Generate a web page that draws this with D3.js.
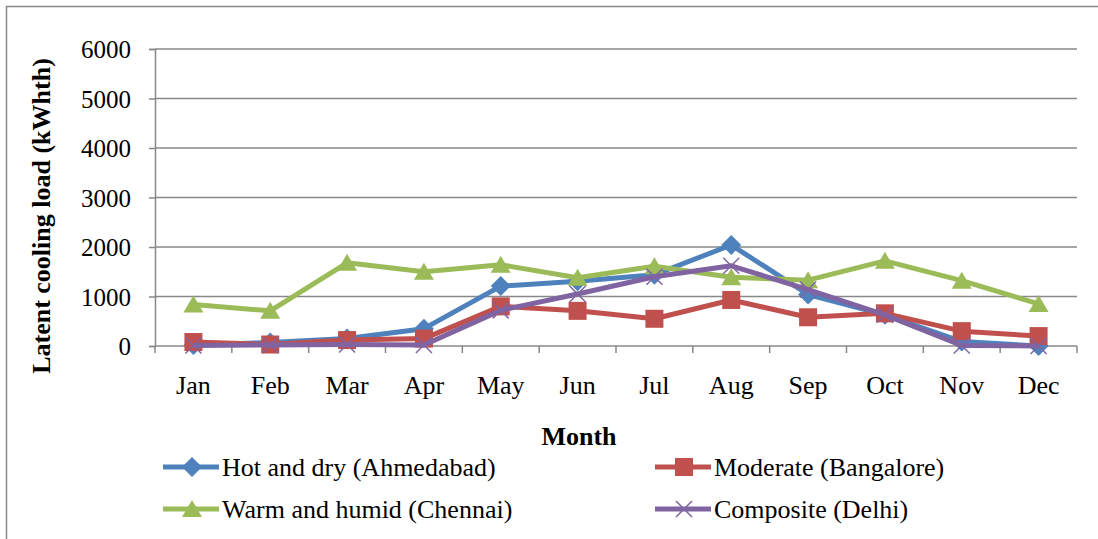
<!DOCTYPE html>
<html>
<head>
<meta charset="utf-8">
<script src="https://cdn.jsdelivr.net/npm/d3@7"></script>
<style>
  html, body { margin: 0; padding: 0; background: #fff; }
  svg { display: block; }
  text { font-family: "Liberation Serif", "Times New Roman", serif; fill: #000; }
</style>
</head>
<body>
<svg id="chart" width="1098" height="539"></svg>
<script>
// Monthly latent cooling load (kWhth) for four Indian climate zones
const months = ["Jan", "Feb", "Mar", "Apr", "May", "Jun", "Jul", "Aug", "Sep", "Oct", "Nov", "Dec"];
const hotDry    = [20, 70, 150, 350, 1210, 1310, 1440, 2040, 1040, 630, 90, 0];
const moderate  = [80, 30, 120, 150, 800, 710, 550, 930, 580, 660, 300, 200];
const warmHumid = [840, 710, 1680, 1500, 1640, 1380, 1610, 1390, 1330, 1720, 1320, 850];
const composite = [10, 20, 30, 20, 720, 1050, 1400, 1620, 1140, 630, 10, 0];
const yTicks = [0, 1000, 2000, 3000, 4000, 5000, 6000];

const series = [
  { name: "Hot and dry (Ahmedabad)",   values: hotDry,    color: "#4F81BD", marker: "diamond" },
  { name: "Moderate (Bangalore)",      values: moderate,  color: "#C0504D", marker: "square" },
  { name: "Warm and humid (Chennai)",  values: warmHumid, color: "#9BBB59", marker: "triangle" },
  { name: "Composite (Delhi)",         values: composite, color: "#8064A2", marker: "x" }
];

const svg = d3.select("#chart");
const plot = { left: 155, right: 1077, top: 49, bottom: 346 };
const gridColor = "#888888";

// Outer chart frame (open on the right and bottom edges of the page)
svg.append("rect")
  .attr("x", 6.5).attr("y", 6.5)
  .attr("width", 1200).attr("height", 600)
  .attr("fill", "none").attr("stroke", gridColor).attr("stroke-width", 1.5);

const x = d3.scaleBand().domain(months).range([plot.left, plot.right]);
const y = d3.scaleLinear().domain([0, 6000]).range([plot.bottom, plot.top]);

// Horizontal gridlines
svg.append("g")
  .selectAll("line")
  .data(yTicks.filter(d => d > 0))
  .join("line")
  .attr("x1", plot.left).attr("x2", plot.right)
  .attr("y1", d => y(d)).attr("y2", d => y(d))
  .attr("stroke", gridColor).attr("stroke-width", 1.5);

// Y axis
const yAxis = svg.append("g")
  .attr("transform", `translate(${plot.left},0)`)
  .call(d3.axisLeft(y).tickValues(yTicks).tickSize(6).tickPadding(18).tickFormat(d3.format("d")));
yAxis.select(".domain").attr("stroke", gridColor).attr("stroke-width", 1.5);
yAxis.selectAll(".tick line").attr("stroke", gridColor).attr("stroke-width", 1.5);
yAxis.selectAll(".tick text")
  .attr("font-size", 25).attr("font-family", "Liberation Serif").attr("fill", "#000")
  .attr("dy", "0.34em");

// X axis with ticks between categories
const xAxis = svg.append("g")
  .attr("transform", `translate(0,${plot.bottom})`)
  .call(d3.axisBottom(x).tickSize(0).tickPadding(30));
xAxis.select(".domain").remove();
xAxis.selectAll(".tick text")
  .attr("font-size", 26).attr("font-family", "Liberation Serif").attr("fill", "#000");
svg.append("line")
  .attr("x1", plot.left).attr("x2", plot.right)
  .attr("y1", plot.bottom).attr("y2", plot.bottom)
  .attr("stroke", gridColor).attr("stroke-width", 1.5);
const bounds = months.map(m => x(m)).concat([plot.right]);
svg.append("g")
  .selectAll("line")
  .data(bounds)
  .join("line")
  .attr("x1", d => d).attr("x2", d => d)
  .attr("y1", plot.bottom).attr("y2", plot.bottom + 7)
  .attr("stroke", gridColor).attr("stroke-width", 1.5);

// Axis titles
svg.append("text")
  .attr("transform", `translate(50,216) rotate(-90)`)
  .attr("text-anchor", "middle")
  .attr("font-size", 26).attr("font-weight", "bold")
  .text("Latent cooling load (kWhth)");
svg.append("text")
  .attr("x", 579).attr("y", 445)
  .attr("text-anchor", "middle")
  .attr("font-size", 26).attr("font-weight", "bold")
  .text("Month");

// Marker shapes
function drawMarker(g, type, color, cx, cy) {
  if (type === "diamond") {
    const s = 10;
    g.append("path")
      .attr("d", `M${cx},${cy - s}L${cx + s},${cy}L${cx},${cy + s}L${cx - s},${cy}Z`)
      .attr("fill", color);
  } else if (type === "square") {
    const s = 9;
    g.append("rect")
      .attr("x", cx - s).attr("y", cy - s).attr("width", 2 * s).attr("height", 2 * s)
      .attr("fill", color);
  } else if (type === "triangle") {
    const s = 10;
    g.append("path")
      .attr("d", `M${cx},${cy - 9}L${cx + s},${cy + 8}L${cx - s},${cy + 8}Z`)
      .attr("fill", color);
  } else {
    const s = 8;
    g.append("path")
      .attr("d", `M${cx - s},${cy - s}L${cx + s},${cy + s}M${cx + s},${cy - s}L${cx - s},${cy + s}`)
      .attr("stroke", color).attr("stroke-width", 1.5).attr("fill", "none");
  }
}

const line = d3.line()
  .x((d, i) => x(months[i]) + x.bandwidth() / 2)
  .y(d => y(d));

series.forEach(s => {
  const g = svg.append("g");
  g.append("path")
    .attr("d", line(s.values))
    .attr("fill", "none")
    .attr("stroke", s.color)
    .attr("stroke-width", 5)
    .attr("stroke-linejoin", "round");
  s.values.forEach((v, i) => {
    drawMarker(g, s.marker, s.color, x(months[i]) + x.bandwidth() / 2, y(v));
  });
});

// Legend
const legendPos = [
  { x: 163, y: 467 }, { x: 655, y: 467 },
  { x: 163, y: 509 }, { x: 655, y: 509 }
];
series.forEach((s, i) => {
  const p = legendPos[i];
  const g = svg.append("g");
  g.append("line")
    .attr("x1", p.x).attr("x2", p.x + 56)
    .attr("y1", p.y).attr("y2", p.y)
    .attr("stroke", s.color).attr("stroke-width", 5);
  drawMarker(g, s.marker, s.color, p.x + 29, p.y);
  g.append("text")
    .attr("x", p.x + 59).attr("y", p.y + 9)
    .attr("font-size", 26)
    .text(s.name);
});
</script>
</body>
</html>
